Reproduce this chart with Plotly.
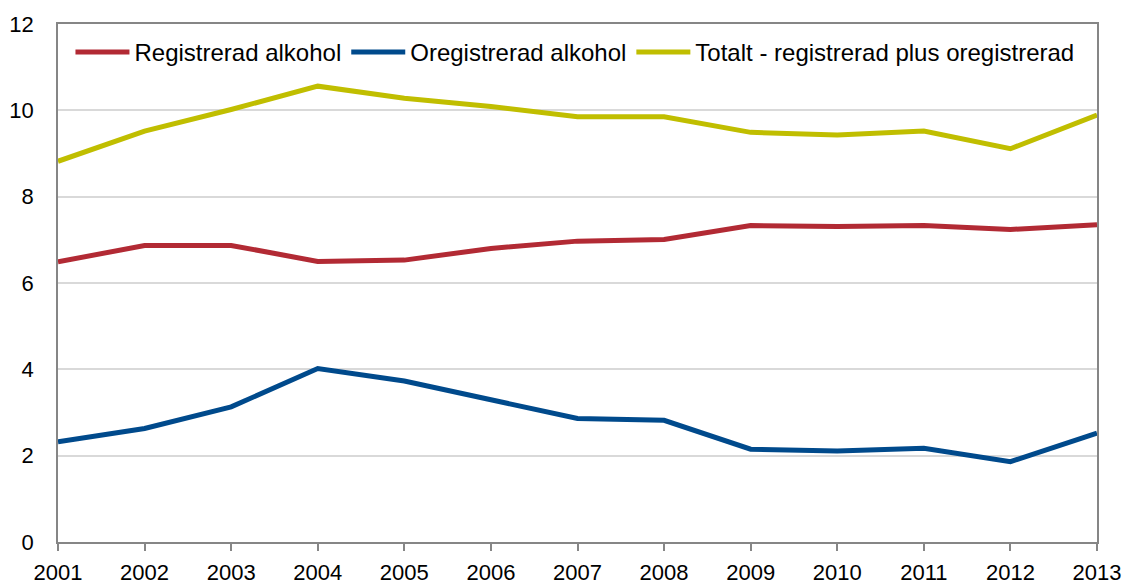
import plotly.graph_objects as go

years = [2001, 2002, 2003, 2004, 2005, 2006, 2007, 2008, 2009, 2010, 2011, 2012, 2013]
registrerad = [6.49, 6.87, 6.87, 6.50, 6.53, 6.80, 6.97, 7.01, 7.33, 7.31, 7.33, 7.24, 7.35]
oregistrerad = [2.32, 2.63, 3.13, 4.02, 3.73, 3.29, 2.86, 2.82, 2.15, 2.11, 2.17, 1.86, 2.52]
totalt = [8.82, 9.52, 10.02, 10.56, 10.28, 10.09, 9.85, 9.85, 9.49, 9.43, 9.52, 9.11, 9.89]

names = ["Registrerad alkohol", "Oregistrerad alkohol", "Totalt - registrerad plus oregistrerad"]
colors = ["#B22A34", "#004A8C", "#C0BE00"]
series = [registrerad, oregistrerad, totalt]

fig = go.Figure()
for name, vals, col in zip(names, series, colors):
    fig.add_trace(go.Scatter(x=years, y=vals, name=name, mode="lines",
                             line=dict(color=col, width=5)))

font_family = "Liberation Sans, Arial, sans-serif"
fig.update_layout(
    width=1126, height=580,
    margin=dict(l=57.5, r=28.5, t=23.5, b=38, autoexpand=False),
    paper_bgcolor="white", plot_bgcolor="white",
    font=dict(family=font_family, size=22, color="black"),
    showlegend=True,
    legend=dict(orientation="h", x=0.012, xanchor="left", y=0.945, yanchor="middle",
                font=dict(size=24, color="black"), bgcolor="rgba(0,0,0,0)",
                traceorder="normal", itemwidth=54),
    xaxis=dict(range=[2001, 2013], tickmode="array", tickvals=years,
               ticktext=[str(y) for y in years],
               showgrid=False, showline=True, linecolor="#868686", linewidth=1.5,
               mirror=True, ticks="outside", ticklen=7, tickcolor="#868686", tickwidth=1.5,
               zeroline=False, automargin=False, ticklabelstandoff=3,
               tickfont=dict(size=22)),
    yaxis=dict(range=[0, 12], tickvals=[0, 2, 4, 6, 8, 10, 12],
               showgrid=True, gridcolor="#D9D9D9", gridwidth=1.5,
               showline=True, linecolor="#868686", linewidth=1.5, mirror=True,
               ticks="outside", ticklen=0, zeroline=False, automargin=False,
               ticklabelstandoff=18, tickfont=dict(size=22)),
)

fig.write_html("out.html", config={"displayModeBar": False},
               post_script="document.body.style.margin='0';document.body.style.overflow='hidden';")
